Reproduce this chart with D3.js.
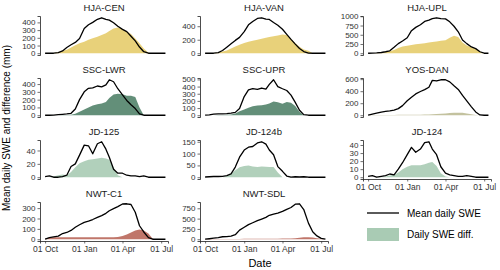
<!DOCTYPE html>
<html>
<head>
<meta charset="utf-8">
<script src="https://cdn.jsdelivr.net/npm/d3@7"></script>
<style>
  body { margin: 0; background: #fff; }
  svg { font-family: "Liberation Sans", Arial, sans-serif; }
</style>
</head>
<body>
<svg id="chart" width="500" height="270"></svg>
<script>
// sample dates (every ~10 days through the water year)
const dates = ["2000-10-01","2000-10-11","2000-10-21","2000-11-01","2000-11-11","2000-11-21",
  "2000-12-01","2000-12-11","2000-12-21","2001-01-01","2001-01-11","2001-01-21",
  "2001-02-01","2001-02-11","2001-02-21","2001-03-01","2001-03-11","2001-03-21",
  "2001-04-01","2001-04-11","2001-04-21","2001-05-01","2001-05-11","2001-05-21",
  "2001-06-01","2001-06-11","2001-06-21","2001-07-01","2001-07-11"];

const xTickDates = ["2000-10-01", "2001-01-01", "2001-04-01", "2001-07-01"];
const xTickLabels = ["01 Oct", "01 Jan", "01 Apr", "01 Jul"];

const sites = ["HJA-CEN", "HJA-VAN", "HJA-UPL", "SSC-LWR", "SSC-UPR", "YOS-DAN",
  "JD-125", "JD-124b", "JD-124", "NWT-C1", "NWT-SDL"];

// mean daily SWE (mm)
const sweHjaCen = [0,0,0,8,30,75,110,140,190,320,370,400,440,460,440,430,395,350,310,280,220,160,80,20,0,0,0,0,0];
const sweHjaVan = [0,0,0,8,40,90,140,190,235,320,420,470,515,525,505,500,455,415,355,280,205,135,70,25,3,0,0,0,0];
const sweHjaUpl = [0,5,10,20,40,65,160,260,330,420,610,700,770,860,895,935,960,935,930,850,730,580,360,260,170,125,40,0,0];
const sweSscLwr = [0,0,2,8,12,17,25,80,200,300,345,350,375,365,390,455,430,340,260,190,135,85,17,0,0,0,0,0,0];
const sweSscUpr = [0,5,15,18,20,22,28,40,95,260,355,370,360,380,365,430,495,400,370,345,280,180,70,8,0,0,0,0,0];
const sweYosDan = [0,18,35,52,63,72,84,110,160,240,300,355,395,425,465,580,570,590,590,555,490,430,330,240,140,55,5,0,0];
const sweJd125  = [1,2,0,0,1,3,16,20,33,48,47,35,50,53,42,30,12,6,6,3,2,2,1,2,0,0,0,0,0];
const sweJd124b = [1,2,3,3,4,7,14,43,85,115,127,130,145,150,140,115,95,45,25,5,0,2,1,2,0,0,0,0,0];
const sweJd124  = [1,2,0,1,2,4,3,10,18,28,37,31,35,43,44,35,28,13,5,3,2,1,1,2,1,0,0,0,0];
const sweNwtC1  = [0,15,22,30,55,65,85,115,140,163,175,190,210,228,250,275,295,315,340,342,335,260,130,70,15,0,0,0,0];
const sweNwtSdl = [0,12,25,40,60,65,75,110,220,290,355,400,450,490,530,580,610,635,675,725,770,850,860,720,390,180,80,20,0];

// daily SWE difference (mm)
const diffHjaCen = [0,0,3,15,30,45,75,105,130,150,175,195,215,235,260,290,320,335,315,285,250,190,130,60,5,0,0,0,0];
const diffHjaVan = [0,0,2,10,25,40,70,100,125,150,170,185,200,215,230,240,250,262,278,270,215,150,95,55,35,0,0,0,0];
const diffHjaUpl = [0,0,5,15,30,55,90,140,180,205,225,245,255,270,290,305,320,335,350,420,470,440,290,210,165,120,50,0,0];
const diffSscLwr = [0,0,0,0,2,3,5,20,45,75,100,125,140,150,170,220,265,275,270,250,250,235,100,0,0,0,0,0,0];
const diffSscUpr = [0,0,0,2,4,6,10,25,55,80,105,125,135,140,150,165,190,180,160,185,175,130,50,0,0,0,0,0,0];
const diffYosDan = [3,3,4,4,5,5,5,6,6,7,8,9,10,12,14,16,20,24,30,35,40,42,40,30,15,5,0,0,0];
const diffJd125  = [0,0,1,3,4,3,8,15,21,24,26,27,28,29,28,26,15,3,0,0,0,0,0,0,0,0,0,0,0];
const diffJd124b = [0,0,0,0,0,5,15,30,42,48,50,45,43,45,44,43,43,20,0,0,0,0,0,0,0,0,0,0,0];
const diffJd124  = [0,0,0,1,1,2,3,6,10,13,15,15,15,16,18,19,14,5,1,0,0,0,0,0,0,0,0,0,0];
const diffNwtC1  = [5,15,20,20,20,20,20,20,20,20,20,20,20,20,20,20,20,22,30,45,65,85,95,85,55,5,0,0,0];
const diffNwtSdl = [5,5,6,6,7,7,8,8,8,9,9,10,10,10,11,11,12,14,16,18,20,25,35,45,50,40,25,10,0];

// y tick labels per site
const yTicks = [
  [0,100,200,300,400], [0,200,400], [0,250,500,750,1000],
  [0,100,200,300,400], [0,100,200,300,400,500], [0,200,400,600],
  [0,20,40], [0,50,100,150], [0,10,20,30,40],
  [0,100,200,300], [0,250,500,750]
];

const sweSeries = [sweHjaCen, sweHjaVan, sweHjaUpl, sweSscLwr, sweSscUpr, sweYosDan,
  sweJd125, sweJd124b, sweJd124, sweNwtC1, sweNwtSdl];
const diffSeries = [diffHjaCen, diffHjaVan, diffHjaUpl, diffSscLwr, diffSscUpr, diffYosDan,
  diffJd125, diffJd124b, diffJd124, diffNwtC1, diffNwtSdl];

// ---------- layout ----------
const colLeft = [40, 200, 363];
const rowTop = [16, 78, 140, 202];
const panelW = 128, panelH = 39;

const fillColor = {
  HJA: "#e5cc6b", SSC: "#52836a", YOS: "#bdbb95", JD: "#a9cbb4", NWT: "#b9675a"
};

const parse = d3.timeParse("%Y-%m-%d");
const dateObjs = dates.map(parse);
const xDomain = [parse("2000-09-19"), parse("2001-07-17")];

const svg = d3.select("#chart");

sites.forEach((site, i) => {
  const col = i % 3;
  const row = Math.floor(i / 3);
  const left = colLeft[col];
  const top = rowTop[row];
  const showX = row === 3 || i === 8;

  const data = dateObjs.map((d, k) => ({ date: d, swe: sweSeries[i][k], diff: diffSeries[i][k] }));
  const maxV = d3.max(data, (d) => Math.max(d.swe, d.diff));

  const x = d3.scaleTime().domain(xDomain).range([0, panelW]);
  const y = d3.scaleLinear()
    .domain([-0.05 * maxV, 1.05 * maxV])
    .range([panelH, 0]);

  const g = svg.append("g").attr("transform", `translate(${left},${top})`);

  // strip title
  g.append("text")
    .attr("x", panelW / 2)
    .attr("y", -5)
    .attr("text-anchor", "middle")
    .attr("font-size", "9.5px")
    .attr("fill", "#1a1a1a")
    .text(site);

  // difference area
  const group = site.split("-")[0];
  const area = d3.area()
    .x((d) => x(d.date))
    .y0(y(0))
    .y1((d) => y(d.diff));

  g.append("path")
    .datum(data)
    .attr("d", area)
    .attr("fill", fillColor[group])
    .attr("fill-opacity", 0.9);

  // mean SWE line
  const line = d3.line()
    .x((d) => x(d.date))
    .y((d) => y(d.swe));

  g.append("path")
    .datum(data)
    .attr("d", line)
    .attr("fill", "none")
    .attr("stroke", "#000")
    .attr("stroke-width", 1.3)
    .attr("stroke-linejoin", "round");

  // y axis
  const yAxis = g.append("g")
    .call(d3.axisLeft(y)
      .tickValues(yTicks[i])
      .tickFormat(d3.format("d"))
      .tickSize(2.5)
      .tickPadding(2));
  yAxis.select(".domain").attr("stroke", "#000").attr("stroke-width", 0.7);
  yAxis.selectAll(".tick line").attr("stroke", "#333").attr("stroke-width", 0.7);
  yAxis.selectAll(".tick text")
    .attr("font-size", "8px")
    .attr("fill", "#333")
    .attr("font-family", "Liberation Sans, Arial, sans-serif");

  // x axis only on the bottom panel of each column
  if (showX) {
    const xAxis = g.append("g")
      .attr("transform", `translate(0,${panelH})`)
      .call(d3.axisBottom(x)
        .tickValues(xTickDates.map(parse))
        .tickFormat((d, k) => xTickLabels[k])
        .tickSize(2.5)
        .tickPadding(2));
    xAxis.select(".domain").attr("stroke", "#000").attr("stroke-width", 0.7);
    xAxis.selectAll(".tick line").attr("stroke", "#333").attr("stroke-width", 0.7);
    xAxis.selectAll(".tick text")
      .attr("font-size", "8.5px")
      .attr("fill", "#333")
      .attr("font-family", "Liberation Sans, Arial, sans-serif");
  }
});

// axis titles
svg.append("text")
  .attr("transform", "translate(10,128) rotate(-90)")
  .attr("text-anchor", "middle")
  .attr("font-size", "10px")
  .attr("fill", "#000")
  .text("Mean daily SWE and difference (mm)");

svg.append("text")
  .attr("x", 260)
  .attr("y", 267)
  .attr("text-anchor", "middle")
  .attr("font-size", "11px")
  .attr("fill", "#000")
  .text("Date");

// legend
const legend = svg.append("g").attr("transform", "translate(367,213)");
legend.append("line")
  .attr("x1", 0).attr("x2", 32)
  .attr("y1", 0).attr("y2", 0)
  .attr("stroke", "#000")
  .attr("stroke-width", 1.3);
legend.append("text")
  .attr("x", 40).attr("y", 3.5)
  .attr("font-size", "10px")
  .text("Mean daily SWE");
legend.append("rect")
  .attr("x", 0).attr("y", 15)
  .attr("width", 32).attr("height", 13)
  .attr("fill", fillColor.JD);
legend.append("text")
  .attr("x", 40).attr("y", 25)
  .attr("font-size", "10px")
  .text("Daily SWE diff.");
</script>
</body>
</html>
